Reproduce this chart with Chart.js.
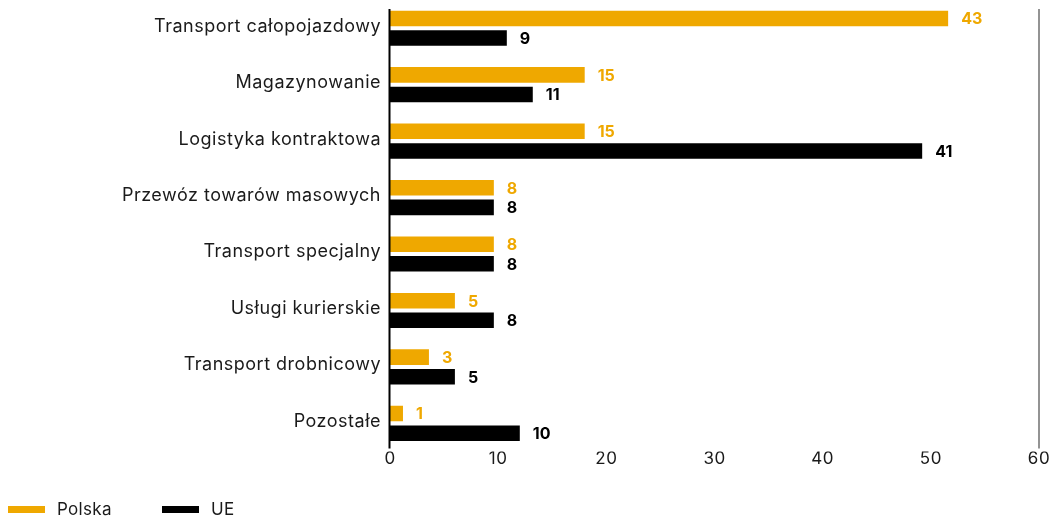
<!DOCTYPE html>
<html>
<head>
<meta charset="utf-8">
<script src="https://cdn.jsdelivr.net/npm/chart.js@4.4.1/dist/chart.umd.min.js"></script>
<style>
  html, body { margin: 0; padding: 0; background: #fff; }
  #wrap { position: relative; width: 1058px; height: 518px; }
  #chart { position: absolute; left: 0; top: 0; }
  .legend-item { position: absolute; top: 500px; height: 18px; display: flex; align-items: center;
                 font: 17px Inter, sans-serif; color: #1a1a1a; letter-spacing: 0.3px; }
  .legend-item .swatch { width: 37px; height: 7px; margin-right: 12px; }
</style>
</head>
<body>
<div id="wrap">
  <canvas id="chart" width="1058" height="518"></canvas>
  <div class="legend-item" style="left:8px"><span class="swatch" style="background:#EFA800"></span>Polska</div>
  <div class="legend-item" style="left:162px"><span class="swatch" style="background:#000"></span>UE</div>
</div>
<script>
// Segments of the logistics market, share of revenue (%)
const categories = [
  'Transport całopojazdowy',
  'Magazynowanie',
  'Logistyka kontraktowa',
  'Przewóz towarów masowych',
  'Transport specjalny',
  'Usługi kurierskie',
  'Transport drobnicowy',
  'Pozostałe'
];
const polskaValues = [43, 15, 15, 8, 8, 5, 3, 1];
const ueValues     = [9, 11, 41, 8, 8, 8, 5, 10];

// The value axis is printed in index points (1 share point = 1.2 index points)
const axisTickLabels = [0, 10, 20, 30, 40, 50, 60];
const indexPerPoint = 1.2;

const ORANGE = '#EFA800';
const FONT = 'Inter, sans-serif';

// Slightly open tracking for the axis text, normal tracking for everything after
const trackingPlugin = {
  id: 'tracking',
  beforeDraw(chart) { chart.ctx.letterSpacing = '0.5px'; },
  beforeDatasetsDraw(chart) { chart.ctx.letterSpacing = '0px'; }
};

// Axis line on the left, thin frame line on the right
const framePlugin = {
  id: 'frameLines',
  afterDatasetsDraw(chart) {
    const { ctx, chartArea: a } = chart;
    ctx.save();
    ctx.strokeStyle = '#6f6f6f';
    ctx.lineWidth = 1.5;
    ctx.beginPath();
    ctx.moveTo(a.right, a.top + 9);
    ctx.lineTo(a.right, a.bottom - 3);
    ctx.stroke();
    ctx.strokeStyle = '#000';
    ctx.lineWidth = 2;
    ctx.beginPath();
    ctx.moveTo(a.left - 0.5, a.top + 9);
    ctx.lineTo(a.left - 0.5, a.bottom - 3);
    ctx.stroke();
    ctx.restore();
  }
};

// Value printed just past the end of each bar
const valueLabelPlugin = {
  id: 'valueLabels',
  afterDatasetsDraw(chart) {
    const { ctx } = chart;
    ctx.save();
    ctx.font = 'bold 16px ' + FONT;
    ctx.textAlign = 'left';
    ctx.textBaseline = 'middle';
    chart.data.datasets.forEach((ds, di) => {
      const meta = chart.getDatasetMeta(di);
      ctx.fillStyle = ds.labelColor;
      meta.data.forEach((bar, i) => {
        ctx.fillText(String(ds.data[i]), bar.x + 13, bar.y + 1);
      });
    });
    ctx.restore();
  }
};

new Chart(document.getElementById('chart'), {
  type: 'bar',
  data: {
    labels: categories,
    datasets: [
      { label: 'Polska', data: polskaValues, backgroundColor: ORANGE, labelColor: ORANGE,
        categoryPercentage: 0.693, barPercentage: 0.795 },
      { label: 'UE', data: ueValues, backgroundColor: '#000', labelColor: '#000',
        categoryPercentage: 0.693, barPercentage: 0.795 }
    ]
  },
  options: {
    indexAxis: 'y',
    responsive: false,
    animation: false,
    layout: { padding: { left: 0, right: 19, top: 0, bottom: 52 } },
    plugins: { legend: { display: false }, tooltip: { enabled: false } },
    scales: {
      x: {
        type: 'linear',
        min: 0,
        max: axisTickLabels[axisTickLabels.length - 1] / indexPerPoint,
        afterBuildTicks(scale) {
          scale.ticks = axisTickLabels.map(t => ({ value: t / indexPerPoint }));
        },
        grid: { display: false, drawTicks: false },
        border: { display: false },
        ticks: {
          padding: -3,
          color: '#1a1a1a',
          font: { family: FONT, size: 17 },
          callback: (v, i) => String(axisTickLabels[i])
        }
      },
      y: {
        type: 'category',
        grid: { display: false, drawTicks: false },
        border: { display: false },
        ticks: { padding: 9, labelOffset: -2, color: '#1a1a1a', font: { family: FONT, size: 18 } },
        afterFit(scale) {
          scale.width = 390;
          scale.paddingTop = 0;
          scale.paddingBottom = 0;
        }
      }
    }
  },
  plugins: [trackingPlugin, framePlugin, valueLabelPlugin]
});
</script>
</body>
</html>
